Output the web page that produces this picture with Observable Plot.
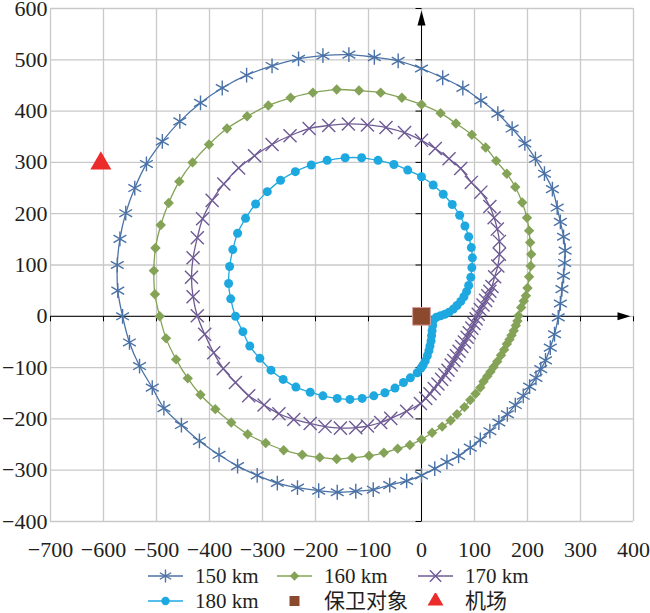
<!DOCTYPE html>
<html><head><meta charset="utf-8">
<script src="https://cdn.jsdelivr.net/npm/d3@7"></script>
<script src="https://cdn.jsdelivr.net/npm/@observablehq/plot@0.6"></script>
<style>
body{margin:0;background:#fff;}
#wrap{width:650px;}
#chart svg{overflow:visible;display:block;}
#legend{position:relative;height:47px;font-size:21px;color:#231F20;}
#legend .t{position:absolute;line-height:14px;height:14px;white-space:nowrap;}
#legend svg{position:absolute;}
</style>
</head><body><div id="wrap"><div id="chart"></div><div id="legend"></div></div>
<script>
// ---- data ----
const xTicks = [-700,-600,-500,-400,-300,-200,-100,0,100,200,300,400];
const yTicks = [-400,-300,-200,-100,0,100,200,300,400,500,600];
const seriesNames = ["150 km","160 km","170 km","180 km"];
const objectNames = ["保卫对象","机场"];
const defended = [[0,0]];
const airport = [[-605,298]];

const s150 = [[0,483],[-44,498],[-89,505],[-137,510],[-186,508],[-232,502],[-282,488],[-330,470],[-376,445],[-417,416],[-456,380],[-489,341],[-519,297],[-541,250],[-558,201],[-569,151],[-574,100],[-573,50],[-564,0],[-551,-51],[-532,-97],[-508,-139],[-486,-179],[-453,-212],[-419,-243],[-382,-270],[-347,-292],[-310,-310],[-272,-325],[-234,-334],[-194,-340],[-159,-343],[-124,-341],[-91,-338],[-60,-329],[-28,-321],[0,-310],[25,-297],[48,-284],[70,-272],[92,-256],[111,-241],[129,-224],[146,-207],[162,-191],[177,-173],[192,-155],[204,-137],[216,-120],[225,-103],[234,-86],[243,-61],[251,-35],[258,-2],[262,25],[265,53],[268,79],[270,104],[271,128],[268,155],[262,184],[256,212],[247,248],[232,278],[215,307],[195,337],[171,366],[144,395],[112,421],[78,445],[40,465]];

const s160 = [[0,413],[-37,426],[-77,436],[-118,440],[-160,442],[-205,436],[-247,426],[-289,411],[-329,390],[-367,366],[-401,335],[-432,300],[-457,263],[-477,221],[-492,178],[-502,133],[-505,89],[-503,43],[-494,0],[-482,-43],[-463,-84],[-441,-121],[-417,-153],[-389,-181],[-359,-207],[-328,-230],[-294,-247],[-260,-261],[-225,-270],[-192,-275],[-160,-278],[-131,-276],[-99,-272],[-71,-266],[-45,-258],[-22,-251],[0,-240],[20,-227],[39,-215],[55,-203],[67,-191],[81,-177],[92,-163],[102,-151],[111,-139],[117,-127],[124,-117],[130,-108],[136,-99],[143,-88],[150,-76],[156,-65],[161,-54],[166,-45],[170,-37],[174,-28],[178,-18],[181,-9],[183,1],[188,17],[193,30],[197,40],[200,55],[203,77],[206,98],[207,121],[205,144],[203,167],[199,192],[190,222],[177,252],[161,278],[141,303],[121,329],[95,354],[65,376],[36,396]];

const s170 = [[0,343],[-32,358],[-67,368],[-102,373],[-138,375],[-175,372],[-212,366],[-248,352],[-282,335],[-315,313],[-345,289],[-373,258],[-395,226],[-413,190],[-423,153],[-431,114],[-434,76],[-431,38],[-423,1],[-409,-35],[-392,-71],[-374,-102],[-351,-129],[-326,-155],[-297,-173],[-269,-190],[-241,-201],[-210,-209],[-182,-215],[-153,-218],[-124,-217],[-102,-214],[-77,-207],[-58,-199],[-28,-185],[-2,-170],[8,-160],[16,-151],[24,-141],[31,-132],[38,-123],[44,-114],[50,-105],[56,-95],[61,-86],[66,-77],[71,-68],[76,-59],[81,-50],[86,-41],[90,-32],[95,-23],[99,-14],[103,-5],[107,4],[111,13],[116,22],[121,31],[125,40],[129,49],[133,58],[138,77],[144,98],[147,121],[147,146],[143,170],[137,192],[129,214],[112,242],[94,261],[74,288],[52,307],[26,327]];

const s180 = [[22,-8],[21,-18],[20,-28],[19,-38],[18,-48],[16,-58],[14,-67],[11,-77],[7,-87],[3,-95],[-1,-101],[-8,-110],[-21,-120],[-34,-129],[-50,-140],[-69,-149],[-90,-155],[-112,-160],[-135,-162],[-159,-160],[-186,-155],[-210,-148],[-237,-138],[-261,-123],[-284,-105],[-305,-82],[-324,-58],[-337,-30],[-351,0],[-360,34],[-364,64],[-362,97],[-356,130],[-347,162],[-332,191],[-313,219],[-291,243],[-266,265],[-238,282],[-208,295],[-178,304],[-144,309],[-113,309],[-82,304],[-52,296],[-26,285],[0,272],[22,256],[41,238],[58,218],[72,197],[82,176],[89,155],[94,134],[96,114],[95,95],[93,76],[89,60],[85,48],[80,38],[74,29],[67,21],[60,14],[52,8],[44,4],[36,1],[28,-2]];

// ---- font pick (serif, Times-like) ----
function hasFont(name){
  const c = document.createElement("canvas").getContext("2d");
  const s = "mmmmmmmmmmlli10WQ@#";
  let diff = false;
  for (const base of ["monospace","sans-serif","serif"]) {
    c.font = "72px " + base; const a = c.measureText(s).width;
    c.font = '72px "' + name + '", ' + base; const b = c.measureText(s).width;
    if (Math.abs(a - b) > 0.5) diff = true;
  }
  return diff;
}
const serifCandidates = ["Liberation Serif","Tinos","Times New Roman","Times","Nimbus Roman","DejaVu Serif","Noto Serif","FreeSerif"];
const serifFont = serifCandidates.find(hasFont) || "Liberation Serif";
const fontStack = '"' + serifFont + '", "Noto Sans CJK SC", serif';
document.getElementById("legend").style.fontFamily = fontStack;

// ---- styles ----
const c150 = "#4A72A6", c160 = "#84A357", c170 = "#6E5A94", c180 = "#1EA8E0";
const cSquare = "#8B4A2D", cTri = "#EC2B2B", gridColor = "#C9C9C9", ink = "#231F20";

const tickDown = {draw(c){c.moveTo(0,0);c.lineTo(0,5);}};
const tickLeft = {draw(c){c.moveTo(0,0);c.lineTo(-6,0);}};
const arrowUp = {draw(c){c.moveTo(0,2);c.lineTo(4,17);c.lineTo(-4,17);c.closePath();}};
const arrowRight = {draw(c){c.moveTo(-3,0);c.lineTo(-16,4);c.lineTo(-16,-4);c.closePath();}};

const X = d => d[0], Y = d => d[1];
const closed = a => a.concat([a[0]]);
const lw = 1.3;

const chart = Plot.plot({
  width: 650, height: 566,
  marginLeft: 50, marginRight: 17, marginTop: 8, marginBottom: 45,
  x: {domain: [-700, 400]},
  y: {domain: [-400, 600]},
  style: {fontFamily: fontStack, fontSize: "22px", background: "white", color: ink, overflow: "visible"},
  marks: [
    Plot.gridX(xTicks, {stroke: gridColor, strokeOpacity: 1, strokeWidth: 1.3}),
    Plot.gridY(yTicks, {stroke: gridColor, strokeOpacity: 1, strokeWidth: 1.3}),
    Plot.axisX(xTicks, {tickSize: 0, tickPadding: 20, fontSize: 22, fontFamily: fontStack, fill: ink}),
    Plot.axisY(yTicks, {tickSize: 0, tickPadding: 3, fontSize: 22, fontFamily: fontStack, fill: ink}),
    Plot.ruleY([0], {x1: -700, x2: 385, stroke: "black", strokeWidth: 1}),
    Plot.ruleX([0], {y1: -400, y2: 585, stroke: "black", strokeWidth: 1}),
    Plot.dot(xTicks, {x: d => d, y: 0, symbol: tickDown, stroke: "black", fill: "none", strokeWidth: 1}),
    Plot.dot(yTicks, {x: 0, y: d => d, symbol: tickLeft, stroke: "black", fill: "none", strokeWidth: 1}),
    Plot.dot([600], {x: 0, y: d => d, symbol: arrowUp, fill: "black", stroke: "none"}),
    Plot.dot([400], {x: d => d, y: 0, symbol: arrowRight, fill: "black", stroke: "none"}),

    Plot.line(closed(s150), {x: X, y: Y, stroke: c150, strokeWidth: lw, curve: "catmull-rom"}),
    Plot.dot(s150, {x: X, y: Y, symbol: "asterisk", r: 7, stroke: c150, fill: "none", strokeWidth: 1.4}),
    Plot.line(closed(s160), {x: X, y: Y, stroke: c160, strokeWidth: lw, curve: "catmull-rom"}),
    Plot.dot(s160, {x: X, y: Y, symbol: "diamond2", r: 4.7, fill: c160, stroke: "none"}),
    Plot.line(closed(s170), {x: X, y: Y, stroke: c170, strokeWidth: lw, curve: "catmull-rom"}),
    Plot.dot(s170, {x: X, y: Y, symbol: "times", r: 6, stroke: c170, fill: "none", strokeWidth: 1.4}),
    Plot.line(s180, {x: X, y: Y, stroke: c180, strokeWidth: lw, curve: "catmull-rom"}),
    Plot.dot(s180, {x: X, y: Y, symbol: "circle", r: 4.5, fill: c180, stroke: "none"}),

    Plot.dot(defended, {x: X, y: Y, symbol: "square", r: 10, fill: cSquare, stroke: "#D9A0A0", strokeWidth: 1}),
    Plot.dot(airport, {x: X, y: Y, symbol: "triangle", r: 7.8, fill: cTri, stroke: "none"})
  ]
});
document.getElementById("chart").appendChild(chart);

// ---- legend ----
const legend = document.getElementById("legend");
const items = [
  {name: seriesNames[0], color: c150, sym: d3.symbolAsterisk, size: 120, fill: false, line: true},
  {name: seriesNames[1], color: c160, sym: d3.symbolDiamond2, size: 55, fill: true, line: true},
  {name: seriesNames[2], color: c170, sym: d3.symbolTimes, size: 85, fill: false, line: true},
  {name: seriesNames[3], color: c180, sym: d3.symbolCircle, size: 55, fill: true, line: true},
  {name: objectNames[0], color: cSquare, sym: d3.symbolSquare, size: 100, fill: true, line: false},
  {name: objectNames[1], color: cTri, sym: d3.symbolTriangle, size: 110, fill: true, line: false}
];
const cols = [148, 277, 418], rows = [10, 35];
items.forEach((it, i) => {
  const left = cols[i % 3], cy = rows[Math.floor(i / 3)];
  const ns = "http://www.w3.org/2000/svg";
  const svg = document.createElementNS(ns, "svg");
  svg.setAttribute("width", 36); svg.setAttribute("height", 16);
  svg.style.left = left + "px"; svg.style.top = (cy - 8) + "px";
  if (it.line) {
    const l = document.createElementNS(ns, "line");
    l.setAttribute("x1", 0); l.setAttribute("x2", 35); l.setAttribute("y1", 8); l.setAttribute("y2", 8);
    l.setAttribute("stroke", it.color); l.setAttribute("stroke-width", 1.3);
    svg.appendChild(l);
  }
  const p = document.createElementNS(ns, "path");
  p.setAttribute("d", d3.symbol(it.sym, it.size)());
  p.setAttribute("transform", "translate(17.5,8)");
  if (it.fill) { p.setAttribute("fill", it.color); }
  else { p.setAttribute("fill", "none"); p.setAttribute("stroke", it.color); p.setAttribute("stroke-width", 1.4); }
  svg.appendChild(p);
  legend.appendChild(svg);
  const t = document.createElement("div");
  t.className = "t"; t.textContent = it.name;
  t.style.left = (left + 47) + "px"; t.style.top = (cy - 7) + "px";
  legend.appendChild(t);
});
</script></body></html>
